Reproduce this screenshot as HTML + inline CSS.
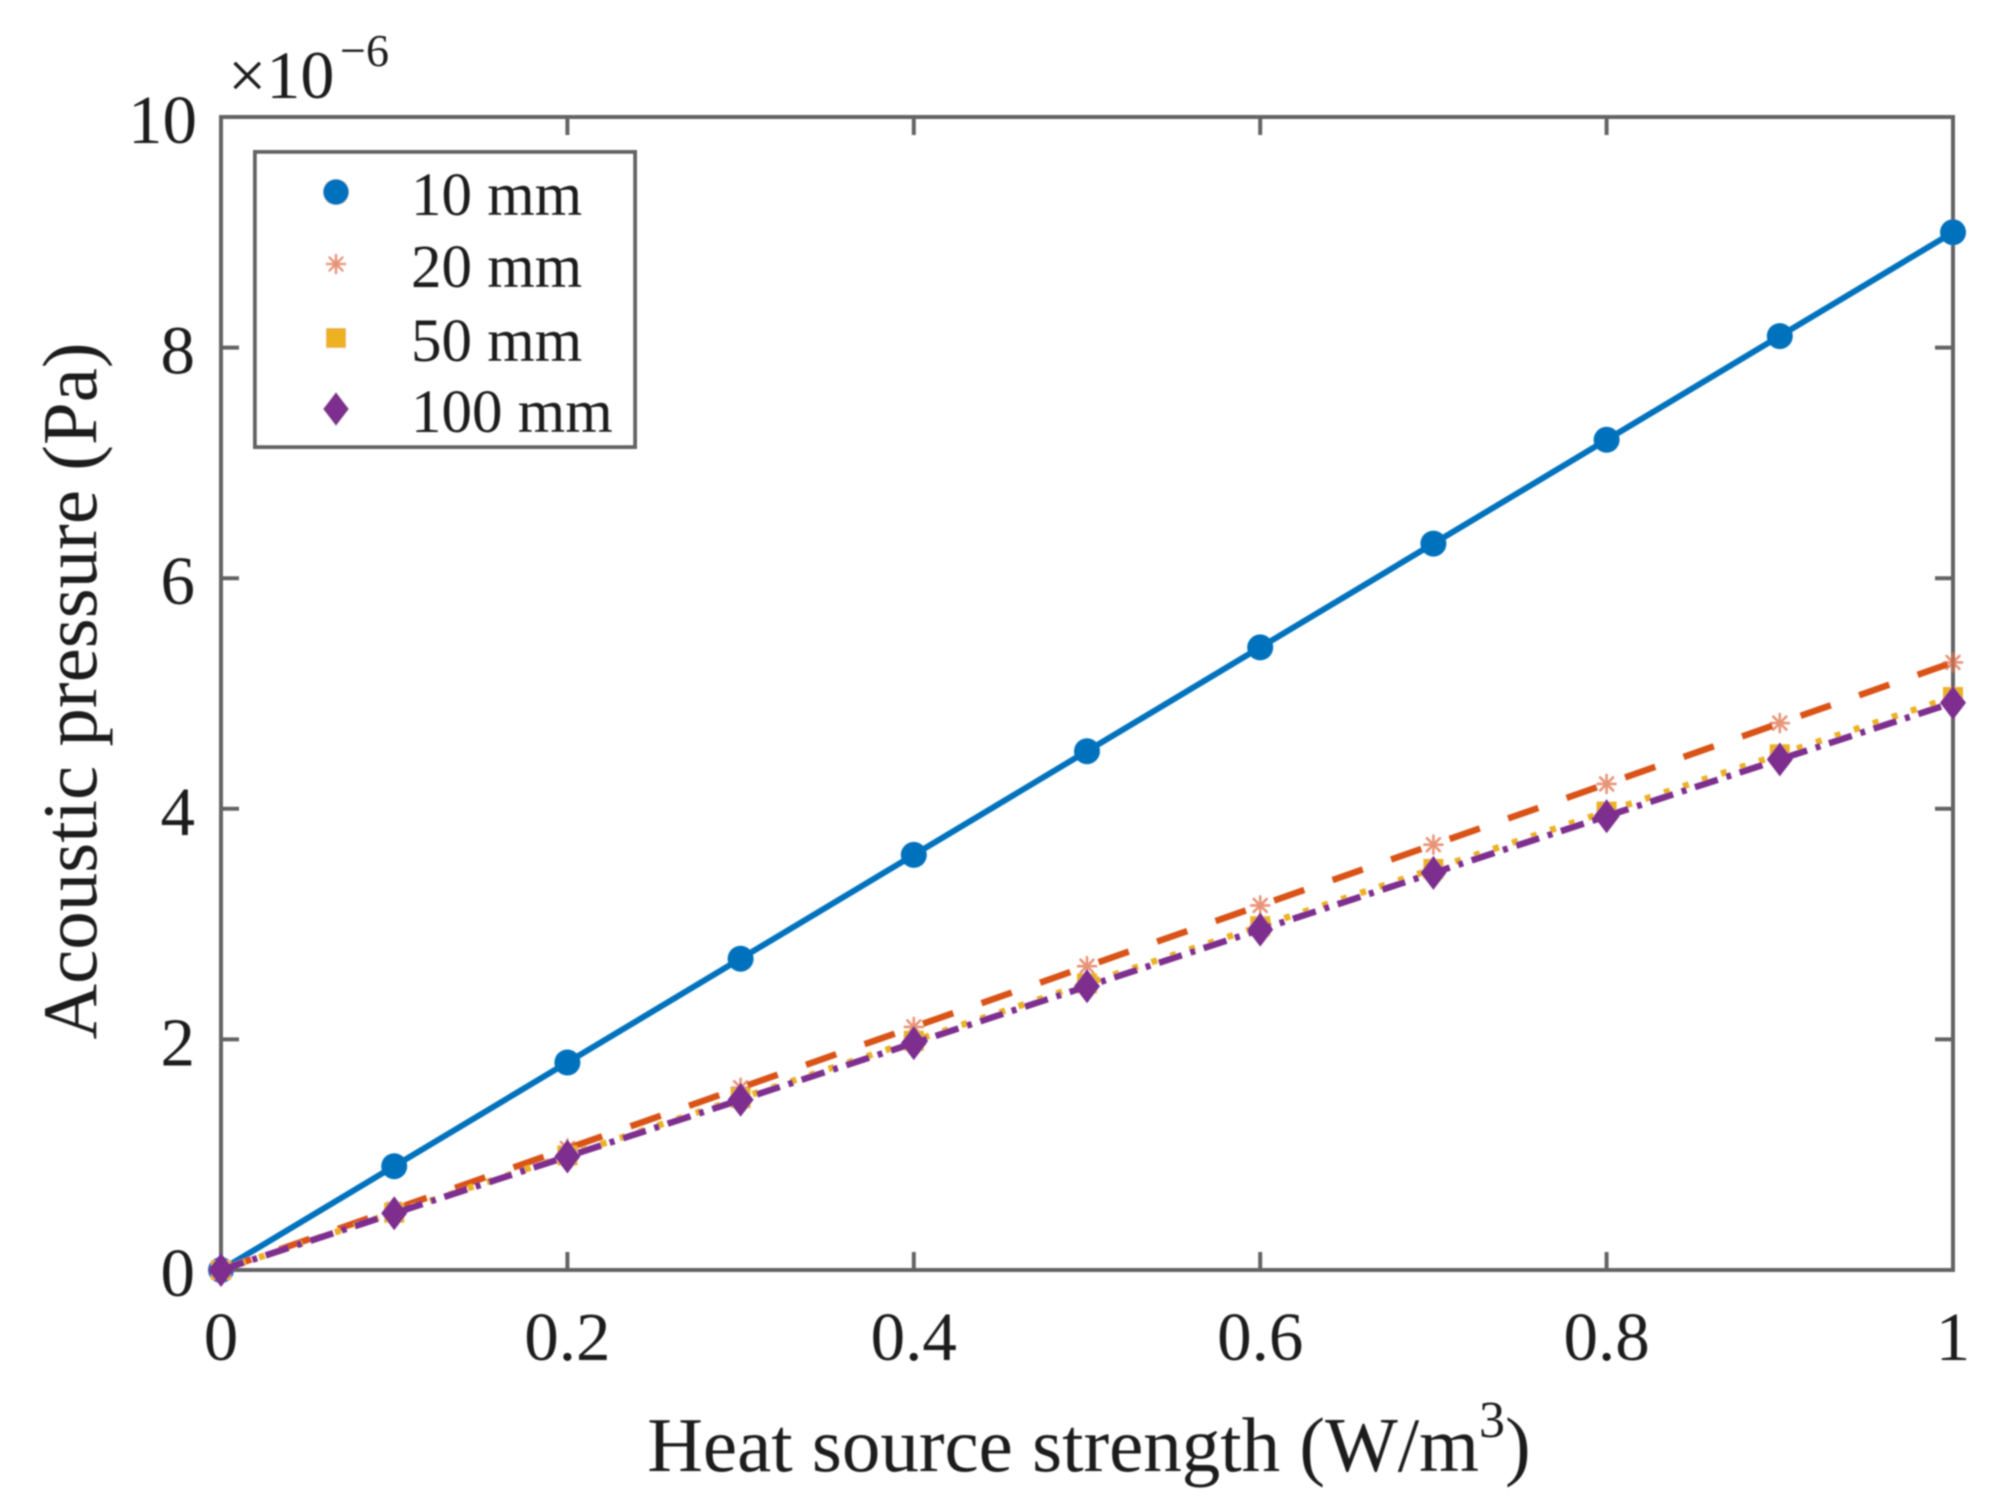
<!DOCTYPE html>
<html>
<head>
<meta charset="utf-8">
<style>
  html, body { margin: 0; padding: 0; background: #ffffff; }
  body { width: 2005px; height: 1511px; overflow: hidden; }
  svg { display: block; }
  text { font-family: "Liberation Serif", "Times New Roman", serif; fill: #1a1a1a; }
</style>
</head>
<body>
<svg width="2005" height="1511" viewBox="0 0 2005 1511" xmlns="http://www.w3.org/2000/svg">
  <defs>
    <filter id="soft" x="-5%" y="-5%" width="110%" height="110%">
      <feGaussianBlur stdDeviation="0.8"/>
    </filter>
    <symbol id="mc" overflow="visible"><circle cx="0" cy="0" r="13" fill="#0072BD"/></symbol>
    <symbol id="ma" overflow="visible">
      <g stroke="#E0704A" stroke-width="2.6" stroke-linecap="round" opacity="0.75">
        <line x1="-9" y1="0" x2="9" y2="0"/>
        <line x1="0" y1="-9" x2="0" y2="9"/>
        <line x1="-6.5" y1="-6.5" x2="6.5" y2="6.5"/>
        <line x1="-6.5" y1="6.5" x2="6.5" y2="-6.5"/>
      </g>
    </symbol>
    <symbol id="ms" overflow="visible"><rect x="-10" y="-10" width="20" height="20" fill="#EDB120"/></symbol>
    <symbol id="md" overflow="visible"><polygon points="0,-17 13,0 0,17 -13,0" fill="#7E2F8E"/></symbol>
  </defs>

  <rect x="0" y="0" width="2005" height="1511" fill="#ffffff"/>

  <g filter="url(#soft)">
    <!-- Axes box -->
    <rect x="221" y="117" width="1732" height="1153" fill="none" stroke="#646464" stroke-width="4"/>

    <!-- Ticks -->
    <g stroke="#646464" stroke-width="4">
      <line x1="567.4" y1="1270" x2="567.4" y2="1252"/>
      <line x1="913.8" y1="1270" x2="913.8" y2="1252"/>
      <line x1="1260.2" y1="1270" x2="1260.2" y2="1252"/>
      <line x1="1606.6" y1="1270" x2="1606.6" y2="1252"/>
      <line x1="567.4" y1="117" x2="567.4" y2="135"/>
      <line x1="913.8" y1="117" x2="913.8" y2="135"/>
      <line x1="1260.2" y1="117" x2="1260.2" y2="135"/>
      <line x1="1606.6" y1="117" x2="1606.6" y2="135"/>
      <line x1="221" y1="1039.4" x2="239" y2="1039.4"/>
      <line x1="221" y1="808.8" x2="239" y2="808.8"/>
      <line x1="221" y1="578.2" x2="239" y2="578.2"/>
      <line x1="221" y1="347.6" x2="239" y2="347.6"/>
      <line x1="1953" y1="1039.4" x2="1935" y2="1039.4"/>
      <line x1="1953" y1="808.8" x2="1935" y2="808.8"/>
      <line x1="1953" y1="578.2" x2="1935" y2="578.2"/>
      <line x1="1953" y1="347.6" x2="1935" y2="347.6"/>
    </g>

    <!-- Series 10 mm -->
    <polyline points="221,1270 1953,232.3" fill="none" stroke="#0072BD" stroke-width="6" stroke-linecap="round"/>
    <g>
      <use href="#mc" x="221" y="1270"/>
      <use href="#mc" x="394.2" y="1166.2"/>
      <use href="#mc" x="567.4" y="1062.5"/>
      <use href="#mc" x="740.6" y="958.7"/>
      <use href="#mc" x="913.8" y="854.9"/>
      <use href="#mc" x="1087" y="751.2"/>
      <use href="#mc" x="1260.2" y="647.4"/>
      <use href="#mc" x="1433.4" y="543.6"/>
      <use href="#mc" x="1606.6" y="439.8"/>
      <use href="#mc" x="1779.8" y="336.1"/>
      <use href="#mc" x="1953" y="232.3"/>
    </g>

    <!-- Series 20 mm -->
    <polyline points="221,1270 1953,662.4" fill="none" stroke="#D95319" stroke-width="6.5" stroke-dasharray="32 30"/>
    <g>
      <use href="#ma" x="221" y="1270"/>
      <use href="#ma" x="394.2" y="1209.2"/>
      <use href="#ma" x="567.4" y="1148.5"/>
      <use href="#ma" x="740.6" y="1087.7"/>
      <use href="#ma" x="913.8" y="1026.9"/>
      <use href="#ma" x="1087" y="966.2"/>
      <use href="#ma" x="1260.2" y="905.4"/>
      <use href="#ma" x="1433.4" y="844.7"/>
      <use href="#ma" x="1606.6" y="783.9"/>
      <use href="#ma" x="1779.8" y="723.1"/>
      <use href="#ma" x="1953" y="662.4"/>
    </g>

    <!-- Series 50 mm -->
    <polyline points="221,1270 1953,697.0" fill="none" stroke="#EDB120" stroke-width="6.5" stroke-dasharray="6 14"/>
    <g>
      <use href="#ms" x="221" y="1270"/>
      <use href="#ms" x="394.2" y="1212.7"/>
      <use href="#ms" x="567.4" y="1155.4"/>
      <use href="#ms" x="740.6" y="1098.1"/>
      <use href="#ms" x="913.8" y="1040.8"/>
      <use href="#ms" x="1087" y="983.5"/>
      <use href="#ms" x="1260.2" y="926.2"/>
      <use href="#ms" x="1433.4" y="868.9"/>
      <use href="#ms" x="1606.6" y="811.6"/>
      <use href="#ms" x="1779.8" y="754.3"/>
      <use href="#ms" x="1953" y="697.0"/>
    </g>

    <!-- Series 100 mm -->
    <polyline points="221,1270 1953,702.7" fill="none" stroke="#7E2F8E" stroke-width="6.5" stroke-dasharray="24 9 5 9"/>
    <g>
      <use href="#md" x="221" y="1270"/>
      <use href="#md" x="394.2" y="1213.3"/>
      <use href="#md" x="567.4" y="1156.5"/>
      <use href="#md" x="740.6" y="1099.8"/>
      <use href="#md" x="913.8" y="1043.1"/>
      <use href="#md" x="1087" y="986.3"/>
      <use href="#md" x="1260.2" y="929.6"/>
      <use href="#md" x="1433.4" y="872.9"/>
      <use href="#md" x="1606.6" y="816.2"/>
      <use href="#md" x="1779.8" y="759.4"/>
      <use href="#md" x="1953" y="702.7"/>
    </g>

    <!-- Legend -->
    <rect x="255" y="152" width="380" height="295" fill="#ffffff" stroke="#646464" stroke-width="4"/>
    <use href="#mc" x="336" y="192"/>
    <use href="#ma" x="336" y="264"/>
    <use href="#ms" x="336" y="338"/>
    <use href="#md" x="336" y="409"/>
  </g>

  <g filter="url(#soft)">
    <!-- Legend text -->
    <g font-size="61">
      <text x="411" y="215">10 mm</text>
      <text x="411" y="287">20 mm</text>
      <text x="411" y="361">50 mm</text>
      <text x="411" y="432">100 mm</text>
    </g>

    <!-- X tick labels -->
    <g font-size="69" text-anchor="middle">
      <text x="221" y="1360">0</text>
      <text x="567.4" y="1360">0.2</text>
      <text x="913.8" y="1360">0.4</text>
      <text x="1260.2" y="1360">0.6</text>
      <text x="1606.6" y="1360">0.8</text>
      <text x="1953" y="1360">1</text>
    </g>

    <!-- Y tick labels -->
    <g font-size="69" text-anchor="end">
      <text x="195" y="1296">0</text>
      <text x="195" y="1065.4">2</text>
      <text x="195" y="834.8">4</text>
      <text x="195" y="604.2">6</text>
      <text x="195" y="373.6">8</text>
      <text x="197" y="143">10</text>
    </g>

    <!-- Exponent -->
    <text x="228" y="98" font-size="68">×10</text>
    <text x="340" y="66" font-size="46">−6</text>

    <!-- Axis labels -->
    <text x="1089" y="1471" font-size="77" text-anchor="middle">Heat source strength (W/m<tspan font-size="52" dy="-34">3</tspan><tspan dy="34">)</tspan></text>
    <text transform="translate(96,691) rotate(-90)" font-size="77" text-anchor="middle">Acoustic pressure (Pa)</text>
  </g>
</svg>
</body>
</html>
